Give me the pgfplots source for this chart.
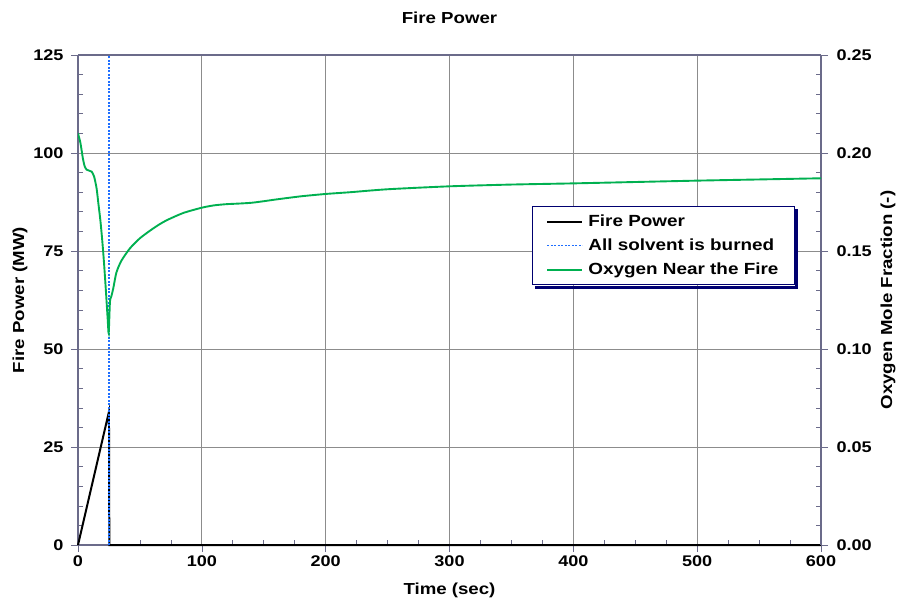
\documentclass[border=0pt]{standalone}
\usepackage{pgfplots}
\pgfplotsset{compat=1.18}
\usepackage{fontspec}
\setmainfont{Liberation Sans}[FakeStretch=1.17]
\definecolor{axgray}{HTML}{6B6B8A}
\definecolor{gridgray}{HTML}{8C8C8C}
\definecolor{oxgreen}{HTML}{00B050}
\definecolor{lineblue}{HTML}{1F6FFF}
\definecolor{navy}{HTML}{000070}

\pgfplotsset{
  common/.style={
    scale only axis, width=743bp, height=490bp,
    xmin=0, xmax=600, ymin=0,
    axis line style={axgray, line width=1.2pt},
    tick style={axgray, line width=0.6pt},
    major tick length=7bp, minor tick length=-5bp,
    tick align=outside,
    /pgf/number format/assume math mode=true,
    ticklabel style={font=\fontsize{15.5}{17}\selectfont\bfseries},
    label style={font=\fontsize{16}{18}\selectfont\bfseries},
  },
  solventline/.style={color=lineblue, dash pattern=on 2bp off 1.5bp, line width=1.6pt},
}

\begin{document}
\begin{tikzpicture}
\begin{axis}[common,
  ymax=125,
  axis y line*=left, axis x line*=bottom,
  xtick={0,100,...,600}, minor x tick num=3,
  ytick={0,25,...,125}, minor y tick num=4,
  yticklabel style={xshift=-4bp},
  grid=major, major grid style={gridgray, line width=0.7pt},
  xlabel={Time (sec)}, ylabel={Fire Power (MW)},
  xlabel style={at={(0.5,0)}, anchor=center, yshift=-45bp},
  ylabel style={at={(0,0.5)}, anchor=center, yshift=58bp},
  title={Fire Power},
  title style={font=\fontsize{16}{18}\selectfont\bfseries, at={(0.5,1)}, anchor=center, yshift=31bp},
  clip=false,
]
\addplot[black, line width=2pt] coordinates {(0,0) (25,34) (25.3,0) (600,0)};
\addplot[solventline] coordinates {(25,0) (25,125)};
\draw[axgray, line width=1.2pt] (rel axis cs:0,1) -- (rel axis cs:1,1);
\end{axis}
\begin{axis}[common,
  ymax=0.25,
  axis y line*=right, axis x line=none,
  ytick={0,0.05,...,0.25}, minor y tick num=4,
  yticklabel style={xshift=5bp, /pgf/number format/.cd, fixed, fixed zerofill, precision=2},
  ylabel={Oxygen Mole Fraction (-)},
  ylabel style={at={(1,0.5)}, anchor=center, yshift=-67bp},
  legend style={name=leg, at={(0.611,0.692)}, anchor=north west, draw=navy, line width=1pt,
    font=\fontsize{16.2}{18}\selectfont\bfseries, fill=white,
    row sep=7bp, column sep=3bp, inner xsep=14bp, inner ysep=6.5bp},
  legend cell align=left,
  legend image code/.code={\draw[#1] (0bp,0bp) -- (35bp,0bp);},
]
\addlegendimage{black, line width=2pt}
\addlegendentry{Fire Power}
\addlegendimage{solventline}
\addlegendentry{All solvent is burned}
\addplot[oxgreen, line width=1.9pt, smooth, tension=0.4] coordinates {
(0,0.210)(2,0.205)(4,0.197)(5.5,0.193)(7,0.1915)(9,0.191)(11,0.1905)(13,0.188)
(15,0.182)(16.5,0.174)(18,0.166)(19.5,0.156)(21,0.144)(22.5,0.130)(24,0.115)
(24.8,0.108)(25.8,0.124)(27,0.127)(28.5,0.131)(31,0.139)(35,0.1450)(42,0.1514)
(50,0.1565)(58,0.1603)(65,0.1633)(72,0.1658)(85,0.1694)(100,0.1721)(110,0.1733)
(120,0.1739)(130,0.1742)(140,0.1746)(150,0.1754)(160,0.1763)(180,0.1779)
(200,0.1791)(220,0.1800)(250,0.1815)(300,0.1830)(350,0.1839)(400,0.1845)
(450,0.1852)(500,0.1859)(550,0.1865)(600,0.1871)};
\addlegendentry{Oxygen Near the Fire}
\end{axis}
% drop shadow of the legend box, drawn as two strips outside the box
\fill[navy] ([shift={(0.5pt,-3.5bp)}]leg.south east) rectangle ([shift={(3.5bp,-3.5bp)}]leg.north east);
\fill[navy] ([shift={(3.5bp,-3.5bp)}]leg.south west) rectangle ([shift={(3.5bp,-0.5pt)}]leg.south east);
\pgfresetboundingbox
\path[use as bounding box] ([shift={(-78bp,-54bp)}]current axis.south west)
  rectangle ([shift={(80bp,55bp)}]current axis.north east);
\end{tikzpicture}
\end{document}
